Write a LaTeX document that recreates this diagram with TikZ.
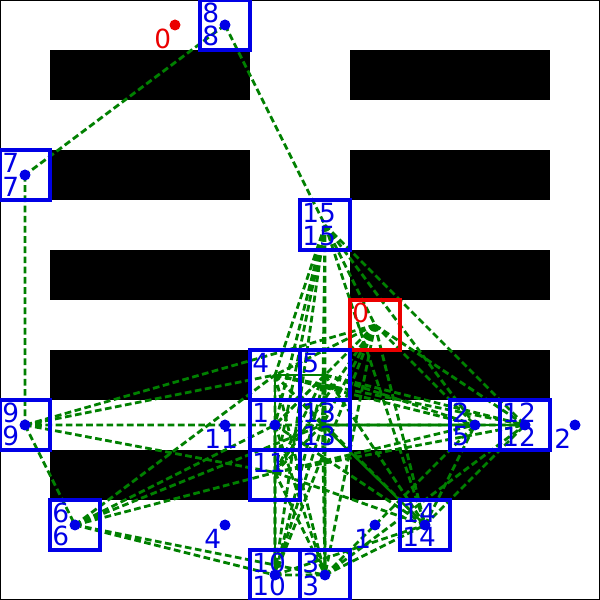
\documentclass[tikz,border=0pt]{standalone}
\usepackage{fontspec}
\setmainfont{DejaVu Sans}
\usepackage{tikz}
\definecolor{pathgreen}{RGB}{0,128,0}
\definecolor{nodeblue}{RGB}{0,0,230}
\definecolor{startred}{RGB}{235,0,0}
\tikzset{edge/.style={pathgreen, line width=1.6pt, dash pattern=on 3.8pt off 2pt}}
\tikzset{route/.style={pathgreen, line width=1.3pt}}
\tikzset{cell/.style={nodeblue, line width=1.8pt}}
\tikzset{wall/.style={fill=black}}
\tikzset{dot/.style={circle, fill=nodeblue, inner sep=0pt, minimum size=0.22cm}}
\tikzset{toplab/.style={anchor=north west, inner sep=0pt, text=nodeblue, font=\fontsize{15}{15}\selectfont}}
\tikzset{botlab/.style={anchor=south west, inner sep=0pt, text=nodeblue, font=\fontsize{15}{15}\selectfont}}
\tikzset{goallab/.style={anchor=north west, inner sep=0pt, text=nodeblue, font=\fontsize{15}{15}\selectfont}}

\begin{document}
\begin{tikzpicture}
\useasboundingbox (0,0) rectangle (12,12);
\draw[line width=0.6pt] (0,0) rectangle (12,12);

% obstacles
\foreach \y in {10, 8, 6, 4, 2} {
  \fill[wall] (1,\y) rectangle (5,\y+1);
  \fill[wall] (7,\y) rectangle (11,\y+1);
}

% roadmap vertices
\coordinate (v0) at (7.5, 5.5);
\coordinate (v1) at (5.5, 3.5);
\coordinate (v2) at (9.5, 3.5);
\coordinate (v3) at (6.5, 0.5);
\coordinate (v4) at (5.5, 4.5);
\coordinate (v5) at (6.5, 4.5);
\coordinate (v6) at (1.5, 1.5);
\coordinate (v7) at (0.5, 8.5);
\coordinate (v8) at (4.5, 11.5);
\coordinate (v9) at (0.5, 3.5);
\coordinate (v10) at (5.5, 0.5);
\coordinate (v11) at (5.5, 2.55);
\coordinate (v12) at (10.5, 3.5);
\coordinate (v13) at (6.45, 3.5);
\coordinate (v14) at (8.5, 1.5);
\coordinate (v15) at (6.5, 7.5);

% goals
\coordinate (g0) at (3.5, 11.5);
\coordinate (g1) at (7.5, 1.5);
\coordinate (g2) at (11.5, 3.5);
\coordinate (g4) at (4.5, 1.5);
\coordinate (g11) at (4.5, 3.5);

% dashed roadmap edges
\draw[edge] (v8) -- (v7) (v8) -- (v15) (v7) -- (v9);
\draw[edge] (v9) -- (v6) (v9) -- (v4) (v9) -- (v1) (v9) -- (v11);
\draw[edge] (v6) -- (v4) (v6) -- (v1) (v6) -- (v11) (v6) -- (v13) (v6) -- (v10) (v6) -- (v3);
\draw[edge] (v15) -- (v0) (v15) -- (v4) (v15) -- (v5) (v15) -- (v1) (v15) -- (v13) (v15) -- (v11)
  (v15) -- (v10) (v15) -- (v3) (v15) -- (v2) (v15) -- (v12) (v15) -- (v14);
\draw[edge] (v0) -- (v4) (v0) -- (v5) (v0) -- (v1) (v0) -- (v13) (v0) -- (v11) (v0) -- (v10)
  (v0) -- (v3) (v0) -- (v14) (v0) -- (v2) (v0) -- (v12) (v0) -- (v9);
\draw[edge] (v4) -- (v13) (v4) -- (v11) (v4) -- (v10) (v4) -- (v3) (v4) -- (v14) (v4) -- (v2) (v4) -- (v12);
\draw[edge] (v5) -- (v1) (v5) -- (v13) (v5) -- (v11) (v5) -- (v10) (v5) -- (v3) (v5) -- (v14) (v5) -- (v2) (v5) -- (v12);
\draw[edge] (v1) -- (v13) (v1) -- (v10) (v1) -- (v3) (v1) -- (v14) (v1) -- (v2) (v1) -- (v12);
\draw[edge] (v13) -- (v11) (v13) -- (v10) (v13) -- (v3) (v13) -- (v2);
\draw[edge] (v11) -- (v3) (v11) -- (v14) (v11) -- (v2) (v11) -- (v12);
\draw[edge] (v10) -- (v3) (v10) -- (v14) (v3) -- (v14) (v3) -- (v2) (v3) -- (v12);
\draw[edge] (v14) -- (v2) (v14) -- (v12);

% solid routes
\draw[route] (v4) -- (v5) (v4) -- (v1) -- (v11) -- (v10);
\draw[route] (v13) -- (v14) (v13) -- (v12);

% cells
\draw[startred, line width=1.8pt] (7,5) rectangle (8,6);
\foreach \x/\y in {4/11, 0/8, 6/7, 5/4, 6/4, 5/3, 6/3, 5/2, 0/3, 1/1, 5/0, 6/0, 8/1, 9/3, 10/3} {
  \draw[cell] (\x,\y) rectangle (\x+1,\y+1);
}

% dots
\node[dot] (d1) at (v1) {};
\node[dot] (d2) at (v2) {};
\node[dot] (d3) at (v3) {};
\node[dot] (d6) at (v6) {};
\node[dot] (d7) at (v7) {};
\node[dot] (d8) at (v8) {};
\node[dot] (d9) at (v9) {};
\node[dot] (d10) at (v10) {};
\node[dot] (d12) at (v12) {};
\node[dot] (d14) at (v14) {};
\node[dot, fill=startred] (dg0) at (g0) {};
\node[dot] (dg1) at (g1) {};
\node[dot] (dg2) at (g2) {};
\node[dot] (dg4) at (g4) {};
\node[dot] (dg11) at (g11) {};

% cell labels
\node[toplab, text=startred] (t0) at (7.04, 5.94) {0};
\foreach \x/\y/\a/\b in {4/11/8/8, 0/8/7/7, 6/7/15/15, 6/3/13/13, 0/3/9/9, 1/1/6/6, 5/0/10/10, 6/0/3/3, 8/1/14/14, 9/3/2/5, 10/3/12/12} {
  \node[toplab] (t\a) at (\x+0.04, \y+0.94) {\a};
  \node[botlab] (b\a) at (\x+0.04, \y+0.07) {\b};
}
\node[toplab] (t4) at (5.04, 4.94) {4};
\node[toplab] (t5) at (6.04, 4.94) {5};
\node[toplab] (t1) at (5.04, 3.94) {1};
\node[toplab] (t11) at (5.04, 2.94) {11};

% goal labels
\node[goallab, text=startred] (l0) at (3.08, 11.42) {0};
\node[goallab] (l1) at (7.08, 1.42) {1};
\node[goallab] (l2) at (11.08, 3.42) {2};
\node[goallab] (l4) at (4.08, 1.42) {4};
\node[goallab] (l11) at (4.08, 3.42) {11};

\end{tikzpicture}
\end{document}
